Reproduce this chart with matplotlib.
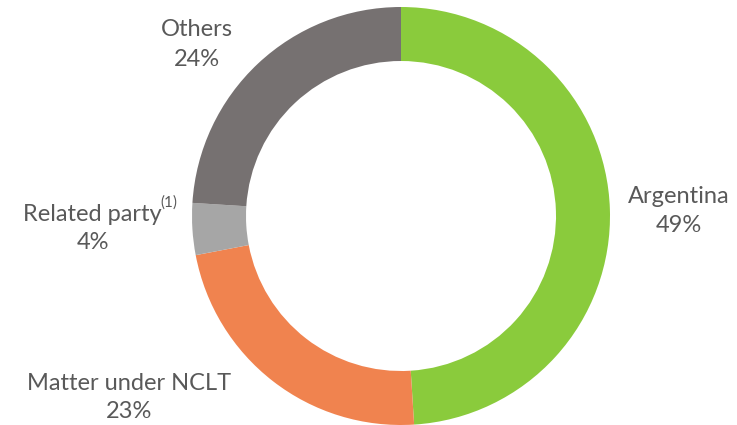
import matplotlib.pyplot as plt

# データ
labels = ['Argentina', 'Matter under NCLT', 'Related party', 'Others']
shares = [49, 23, 4, 24]
colors = ['#8ACB3C', '#F0834F', '#A6A6A6', '#767171']

plt.rcParams['font.family'] = ['Lato', 'DejaVu Sans']
txt = '#595959'

fig = plt.figure(figsize=(7.37, 4.25), dpi=100)
ax = fig.add_axes([0, 0, 1, 1])

# ドーナツ (ピクセル座標, y上向き)
ax.pie(shares, colors=colors, startangle=90, counterclock=False,
       center=(401, 209), radius=209,
       wedgeprops=dict(width=54, linewidth=0))

ax.set_xlim(0, 737)
ax.set_ylim(0, 425)
ax.set_aspect('equal')
ax.axis('off')

fs = 17
ax.text(679, 425 - 196, 'Argentina', ha='center', va='center', fontsize=fs, color=txt)
ax.text(679, 425 - 225, f'{shares[0]}%', ha='center', va='center', fontsize=fs, color=txt)

ax.text(129, 425 - 384, 'Matter under NCLT', ha='center', va='center', fontsize=fs, color=txt)
ax.text(129, 425 - 411, f'{shares[1]}%', ha='center', va='center', fontsize=fs, color=txt)

ax.text(92, 425 - 214, 'Related party', ha='center', va='center', fontsize=fs, color=txt)
ax.text(160, 425 - 203, '(1)', ha='left', va='center', fontsize=11, color=txt)
ax.text(93, 425 - 242, f'{shares[2]}%', ha='center', va='center', fontsize=fs, color=txt)

ax.text(197, 425 - 29, 'Others', ha='center', va='center', fontsize=fs, color=txt)
ax.text(197, 425 - 59, f'{shares[3]}%', ha='center', va='center', fontsize=fs, color=txt)

fig.savefig('out.png', dpi=100)
